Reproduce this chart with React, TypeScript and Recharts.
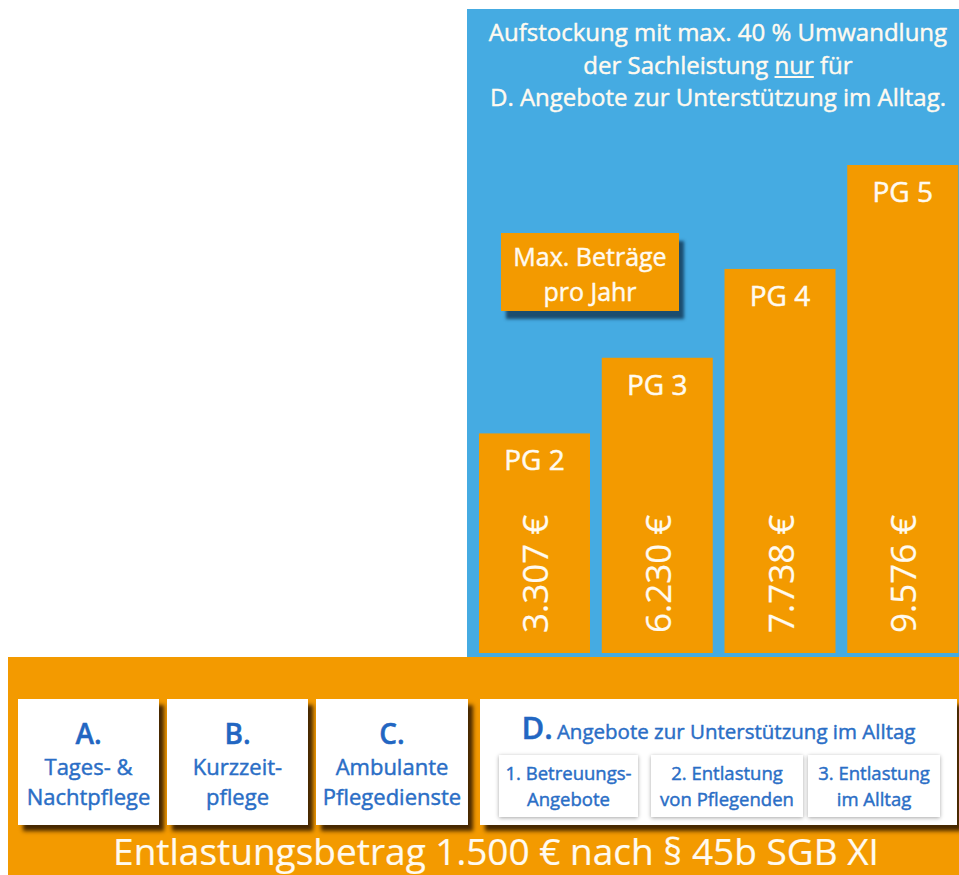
import { BarChart, Bar, XAxis, YAxis } from 'recharts';

// Pflegegrade und Jahresbeträge
const grades = ['PG 2', 'PG 3', 'PG 4', 'PG 5'];
const amounts = ['3.307 €', '6.230 €', '7.738 €', '9.576 €'];
// Balkenhöhen wie in der Grafik (relativ zu PG 5 = 100), nicht maßstabsgetreu
const barLevels = [45, 60.5, 78.7, 100];

const titleLines = ['Aufstockung mit max. 40 % Umwandlung', 'der Sachleistung', 'D. Angebote zur Unterstützung im Alltag.'];

const serviceLetters = ['A.', 'B.', 'C.'];
const serviceLabels = [['Tages- &', 'Nachtpflege'], ['Kurzzeit-', 'pflege'], ['Ambulante', 'Pflegedienste']];
const dTitle = 'Angebote zur Unterstützung im Alltag';
const dItems = [['1. Betreuungs-', 'Angebote'], ['2. Entlastung', 'von Pflegenden'], ['3. Entlastung', 'im Alltag']];
const footerText = 'Entlastungsbetrag 1.500 € nach § 45b SGB XI';

const ORANGE = '#f39a00';
const BLUE = '#45abe2';
const TEXT_BLUE = '#2a6ec6';
const WHITE_TEXT = '#fffaf0';

const data = grades.map((g, i) => ({ name: g, level: barLevels[i], amount: amounts[i] }));

const BarShape = (props: any) => {
    const { x, y, width, height, payload } = props;
    const cx = x + width / 2;
    const bottom = y + height;
    return (
        <g>
            <rect x={x} y={y} width={width} height={height} fill={ORANGE} />
            <text
                x={cx}
                y={y + 26}
                textAnchor="middle"
                dominantBaseline="central"
                fill={WHITE_TEXT}
                stroke={WHITE_TEXT}
                strokeWidth={0.5}
                fontSize={28}
            >
                {payload.name}
            </text>
            <text
                x={cx}
                y={bottom - 20}
                transform={`rotate(-90 ${cx} ${bottom - 20})`}
                textAnchor="start"
                dominantBaseline="central"
                fill={WHITE_TEXT}
                stroke={WHITE_TEXT}
                strokeWidth={0.2}
                fontSize={35}
            >
                {payload.amount}
            </text>
        </g>
    );
};

const boxShadow = '5px 6px 4px rgba(40, 20, 0, 0.85)';
const medium = '0.45px';
const serviceBoxes = [
    { left: 18, width: 141 },
    { left: 167, width: 141 },
    { left: 316, width: 152 },
];
const dItemBoxes = [
    { left: 19, width: 139 },
    { left: 171, width: 152 },
    { left: 328, width: 132 },
];

export default function App() {
    return (
        <div
            style={{
                position: 'absolute',
                left: 0,
                top: 0,
                width: 959,
                height: 875,
                overflow: 'hidden',
                background: '#ffffff',
                fontFamily: '"Open Sans", sans-serif',
            }}
        >
            {/* blue panel */}
            <div style={{ position: 'absolute', left: 467, top: 9, width: 492, height: 649, background: BLUE }} />
            <div
                style={{
                    position: 'absolute',
                    left: 477,
                    top: 16,
                    width: 482,
                    textAlign: 'center',
                    color: WHITE_TEXT,
                    fontSize: 24,
                    lineHeight: '32.5px',
                    whiteSpace: 'nowrap',
                    WebkitTextStroke: medium,
                }}
            >
                <div>{titleLines[0]}</div>
                <div>
                    {titleLines[1]} <u>nur</u> für
                </div>
                <div>{titleLines[2]}</div>
            </div>

            {/* bars */}
            <div style={{ position: 'absolute', left: 467, top: 0 }}>
                <BarChart
                    width={497}
                    height={653}
                    data={data}
                    margin={{ top: 165, right: 0, bottom: 0, left: 6 }}
                >
                    <XAxis dataKey="name" hide />
                    <YAxis hide domain={[0, 100]} />
                    <Bar dataKey="level" barSize={111} shape={<BarShape />} isAnimationActive={false} />
                </BarChart>
            </div>

            {/* Max. Beträge box */}
            <div
                style={{
                    position: 'absolute',
                    left: 501,
                    top: 233,
                    width: 178,
                    height: 78,
                    background: ORANGE,
                    boxShadow: '5px 8px 3px rgba(20, 60, 90, 0.85)',
                    color: WHITE_TEXT,
                    fontSize: 25,
                    textAlign: 'center',
                    lineHeight: '35px',
                    paddingTop: 6,
                    boxSizing: 'border-box',
                    whiteSpace: 'nowrap',
                    WebkitTextStroke: medium,
                }}
            >
                <div>Max. Beträge</div>
                <div>pro Jahr</div>
            </div>

            {/* orange band */}
            <div style={{ position: 'absolute', left: 8, top: 657, width: 951, height: 218, background: ORANGE }}>
                {serviceBoxes.map((b, i) => (
                    <div
                        key={i}
                        style={{
                            position: 'absolute',
                            left: b.left - 8,
                            top: 42,
                            width: b.width,
                            height: 126,
                            background: '#ffffff',
                            boxShadow,
                            textAlign: 'center',
                            color: TEXT_BLUE,
                            paddingTop: 16,
                            boxSizing: 'border-box',
                            whiteSpace: 'nowrap',
                            WebkitTextStroke: medium,
                        }}
                    >
                        <div style={{ fontSize: 28, lineHeight: '36px', color: '#2266c2', fontWeight: 600 }}>{serviceLetters[i]}</div>
                        <div style={{ fontSize: 22, lineHeight: '30px' }}>{serviceLabels[i][0]}</div>
                        <div style={{ fontSize: 22, lineHeight: '30px' }}>{serviceLabels[i][1]}</div>
                    </div>
                ))}

                {/* D box */}
                <div
                    style={{
                        position: 'absolute',
                        left: 472,
                        top: 42,
                        width: 477,
                        height: 126,
                        background: '#ffffff',
                        boxShadow,
                        color: TEXT_BLUE,
                        WebkitTextStroke: medium,
                    }}
                >
                    <div style={{ position: 'absolute', left: 0, top: 12, width: '100%', textAlign: 'center', lineHeight: '32px', whiteSpace: 'nowrap' }}>
                        <span style={{ fontSize: 31, color: '#2266c2', fontWeight: 600 }}>D.</span>{' '}
                        <span style={{ fontSize: 20.5 }}>{dTitle}</span>
                    </div>
                    {dItemBoxes.map((b, i) => (
                        <div
                            key={i}
                            style={{
                                position: 'absolute',
                                left: b.left,
                                top: 56,
                                width: b.width,
                                height: 62,
                                background: '#ffffff',
                                boxShadow: '0 1px 4px rgba(0, 0, 0, 0.35)',
                                textAlign: 'center',
                                fontSize: 18.5,
                                lineHeight: '26px',
                                paddingTop: 5,
                                boxSizing: 'border-box',
                                whiteSpace: 'nowrap',
                            }}
                        >
                            <div>{dItems[i][0]}</div>
                            <div>{dItems[i][1]}</div>
                        </div>
                    ))}
                </div>

                <div
                    style={{
                        position: 'absolute',
                        left: 0,
                        top: 176,
                        width: 976,
                        textAlign: 'center',
                        color: WHITE_TEXT,
                        fontSize: 37,
                        lineHeight: '36px',
                        whiteSpace: 'nowrap',
                        WebkitTextStroke: '0.2px',
                    }}
                >
                    {footerText}
                </div>
            </div>
        </div>
    );
}
